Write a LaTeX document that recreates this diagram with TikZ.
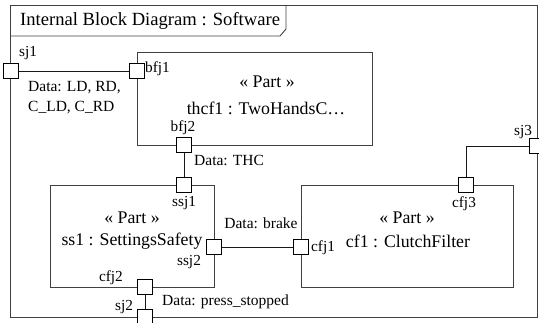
\documentclass[tikz,border=0pt]{standalone}
\usepackage{fontspec}
\setmainfont{Liberation Serif}
\usepackage{tikz}
\usetikzlibrary{calc, positioning}

\begin{document}
\begin{tikzpicture}[
    x=1pt, y=-1pt,
    frame_line/.style={draw=black!75, line width=0.9pt},
    conn_line/.style={draw=black!90, line width=0.8pt},
    % Parts and ports
    port_node/.style={rectangle, draw=black, fill=white, line width=0.8pt, minimum size=15pt, inner sep=0pt},
    title_text/.style={font=\fontsize{18.6}{22}\selectfont, inner sep=0pt},
    main_text/.style={font=\fontsize{17.8}{21}\selectfont, inner sep=0pt},
    port_text/.style={font=\fontsize{15.3}{18}\selectfont, inner sep=0pt},
    data_text/.style={font=\fontsize{15.5}{18}\selectfont, inner sep=0pt, align=left}
]
    \useasboundingbox (0,0) rectangle (539,323);

    % =========================================================================
    % FRAME: INTERNAL BLOCK DIAGRAM
    % =========================================================================
    \draw [frame_line] (10,5) rectangle (537,317);
    \draw [frame_line] (10,36) -- (280,36) -- (286,29) -- (286,5);
    \node [title_text, anchor=west] (title) at (20,21) {Internal Block Diagram : Software};

    % =========================================================================
    % PARTS
    % =========================================================================
    \draw [frame_line] (137,52) rectangle (372,145);
    \node [main_text] (thcf_st) at (267,82) {« Part »};
    \node [main_text] (thcf_name) at (266,108) {thcf1 : TwoHandsC…};

    \draw [frame_line] (50,185) rectangle (214,287);
    \node [main_text] (ss_st) at (132,218) {« Part »};
    \node [main_text] (ss_name) at (132,241) {ss1 : SettingsSafety};

    \draw [frame_line] (301,185) rectangle (513,287);
    \node [main_text] (cf_st) at (407,218) {« Part »};
    \node [main_text] (cf_name) at (408,241) {cf1 : ClutchFilter};

    % =========================================================================
    % CONNECTORS
    % =========================================================================
    \coordinate (sj1_c) at (10.5,71);
    \coordinate (bfj1_c) at (137,71);
    \coordinate (bfj2_c) at (184,145);
    \coordinate (ssj1_c) at (184,185);
    \coordinate (ssj2_c) at (214,247);
    \coordinate (cfj1_c) at (301,247);
    \coordinate (cfj3_c) at (466,185);
    \coordinate (sj3_c) at (537,146);
    \coordinate (cfj2_c) at (145,287);
    \coordinate (sj2_c) at (145,317);

    \draw [conn_line] (sj1_c) -- (bfj1_c);
    \draw [conn_line] (bfj2_c) -- (ssj1_c);
    \draw [conn_line] (ssj2_c) -- (cfj1_c);
    \draw [conn_line] (sj3_c) -| (cfj3_c);
    \draw [conn_line] (cfj2_c) -- (sj2_c);

    % =========================================================================
    % PORTS
    % =========================================================================
    \node [port_node] (sj1) at (sj1_c) {};
    \node [port_node] (bfj1) at (bfj1_c) {};
    \node [port_node] (bfj2) at (bfj2_c) {};
    \node [port_node] (ssj1) at (ssj1_c) {};
    \node [port_node] (ssj2) at (ssj2_c) {};
    \node [port_node] (cfj1) at (cfj1_c) {};
    \node [port_node] (cfj3) at (cfj3_c) {};
    \node [port_node] (sj3) at (sj3_c) {};
    \node [port_node] (cfj2) at (cfj2_c) {};
    \node [port_node] (sj2) at (sj2_c) {};

    \node [port_text] at (28,53) {sj1};
    \node [port_text, anchor=west] at (145,69) {bfj1};
    \node [port_text] at (183,128) {bfj2};
    \node [port_text] at (184,203) {ssj1};
    \node [port_text] at (189,262) {ssj2};
    \node [port_text, anchor=west] at (311,248) {cfj1};
    \node [port_text] at (464,204) {cfj3};
    \node [port_text] at (523,132) {sj3};
    \node [port_text] at (111,278) {cfj2};
    \node [port_text] at (124,307) {sj2};

    % Data labels
    \node [data_text, anchor=west] at (28,88) {Data: LD, RD,};
    \node [data_text, anchor=west] at (28,108) {C\_LD, C\_RD};
    \node [data_text, anchor=west] at (194,160) {Data: THC};
    \node [data_text] at (261,223) {Data: brake};
    \node [data_text, anchor=west] at (162,302) {Data: press\_stopped};
\end{tikzpicture}
\end{document}
